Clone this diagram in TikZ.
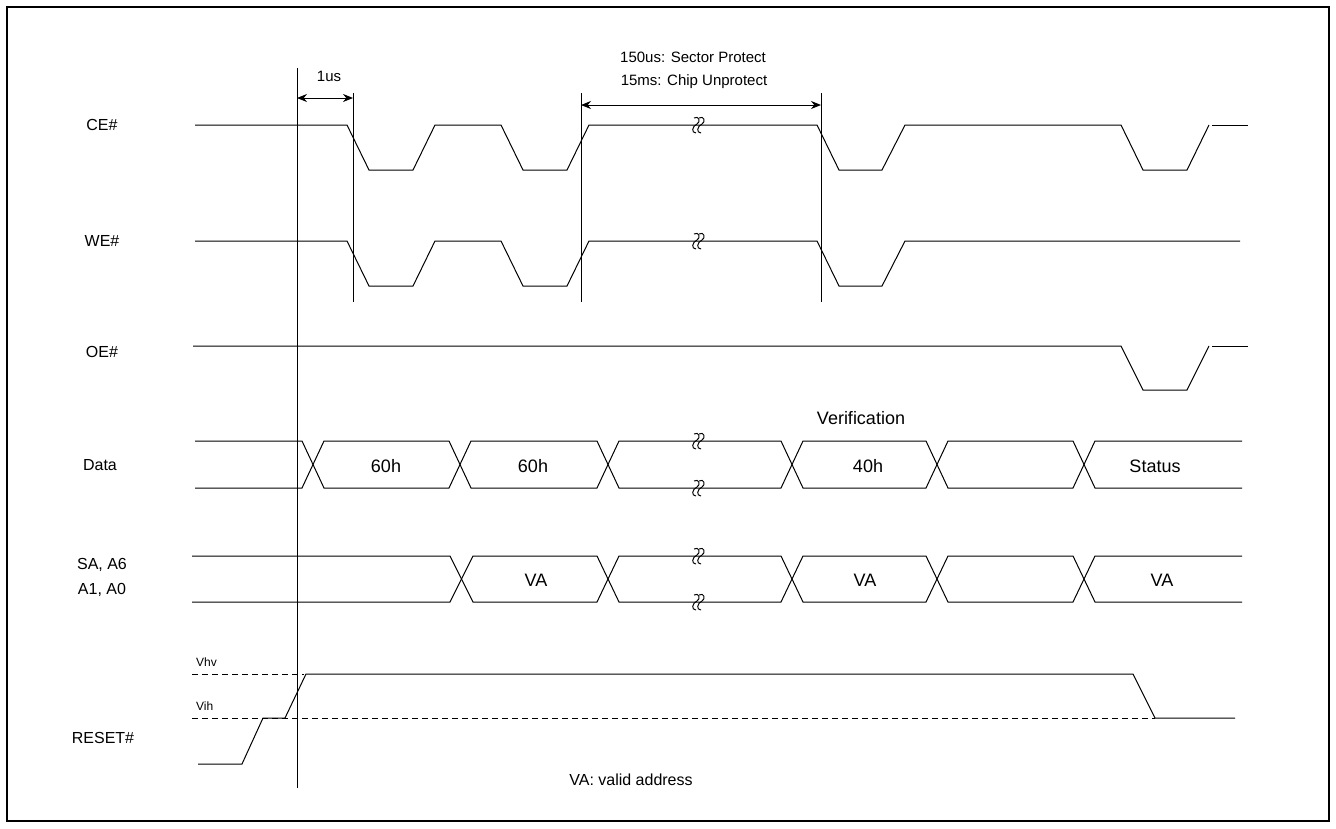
\documentclass[tikz,border=0pt]{standalone}
\usepackage{fontspec}
\setmainfont{Liberation Sans}
\usetikzlibrary{arrows.meta}
\begin{document}
\begin{tikzpicture}[x=1pt,y=-1pt,line join=miter,
  sig/.style={draw,line width=1pt},
  guide/.style={draw,line width=1pt},
  dsh/.style={draw,line width=1pt,dash pattern=on 6pt off 4pt},
  lbl/.style={font=\fontsize{16}{19}\selectfont,inner sep=0pt},
  blbl/.style={font=\fontsize{18}{21}\selectfont,inner sep=0pt},
  small/.style={font=\fontsize{15}{17}\selectfont,inner sep=0pt},
  tiny/.style={font=\fontsize{12}{14}\selectfont,inner sep=0pt,anchor=west},
  dimarrow/.style={draw,line width=1pt,{Stealth[length=10pt,width=8pt]}-{Stealth[length=10pt,width=8pt]}},
  brk/.pic={
    \draw[line width=1pt] (-3,-7) .. controls (2,-10) and (4,-3) .. (0,-1) .. controls (-5,1) and (-6,8) .. (-1,8);
    \draw[line width=1pt] (2,-7) .. controls (7,-10) and (9,-3) .. (5,-1) .. controls (0,1) and (-1,8) .. (4,8);
  }]
\useasboundingbox (0,0) rectangle (1336,828);
\draw[line width=1.2pt] (7,7) rectangle (1329,821);

% signal names
\node[lbl] (nce) at (102,125) {CE\#};
\node[lbl] (nwe) at (102,241) {WE\#};
\node[lbl] (noe) at (102,352) {OE\#};
\node[lbl] (ndata) at (100,465) {Data};
\node[lbl] (nsa) at (102,565) {SA, A6};
\node[lbl] (na1) at (102,590) {A1, A0};
\node[lbl] (nrst) at (103,738) {RESET\#};

% guides
\coordinate (g0t) at (297,68); \coordinate (g0b) at (297,788);
\coordinate (g1t) at (353,93); \coordinate (g1b) at (353,302);
\coordinate (g2t) at (581,93); \coordinate (g2b) at (581,302);
\coordinate (g3t) at (821,93); \coordinate (g3b) at (821,302);
\path[guide] (g0t) -- (g0b);
\path[guide] (g1t) -- (g1b);
\path[guide] (g2t) -- (g2b);
\path[guide] (g3t) -- (g3b);

% dimension arrows
\coordinate (a1l) at (297,98); \coordinate (a1r) at (353,98);
\path[dimarrow] (a1l) -- (a1r);
\node[small] (t1us) at (329,76) {1us};
\coordinate (a2l) at (581,105); \coordinate (a2r) at (821,105);
\path[dimarrow] (a2l) -- (a2r);
\node[small] (tsp) at (693,57) {150us: Sector Protect};
\node[small] (tcu) at (694,82) {15ms: Chip Unprotect};

% CE#
\path[sig] (195,125) -- (347,125) -- (369,170) -- (413,170) -- (435,125) -- (501,125) -- (523,170) -- (567,170) -- (589,125) -- (817,125) -- (839,170) -- (882,170) -- (905,125) -- (1121,125) -- (1143,170) -- (1187,170) -- (1209,125);
\path[sig] (1212,125) -- (1248,125);
\pic at (697,125) {brk};

% WE#
\path[sig] (195,241) -- (347,241) -- (369,286) -- (413,286) -- (435,241) -- (501,241) -- (523,286) -- (567,286) -- (589,241) -- (817,241) -- (839,286) -- (882,286) -- (905,241) -- (1240,241);
\pic at (697,241) {brk};

% OE#
\path[sig] (193,346) -- (1121,346) -- (1143,390) -- (1187,390) -- (1209,346);
\path[sig] (1212,346) -- (1248,346);

% Data bus
\path[sig] (195,441) -- (302,441) -- (324,488) -- (449,488) -- (471,441) -- (597,441) -- (619,488) -- (781,488) -- (803,441) -- (926,441) -- (948,488) -- (1073,488) -- (1095,441) -- (1242,441);
\path[sig] (195,488) -- (302,488) -- (324,441) -- (449,441) -- (471,488) -- (597,488) -- (619,441) -- (781,441) -- (803,488) -- (926,488) -- (948,441) -- (1073,441) -- (1095,488) -- (1242,488);
\pic at (697,441) {brk};
\pic at (697,488) {brk};
\node[blbl] (d1) at (386,466) {60h};
\node[blbl] (d2) at (533,466) {60h};
\node[blbl] (d3) at (868,466) {40h};
\node[blbl] (d4) at (1155,466) {Status};
\node[blbl] (tver) at (861,418) {Verification};

% Address bus
\path[sig] (192,556) -- (450,556) -- (473,602) -- (597,602) -- (619,556) -- (781,556) -- (803,602) -- (926,602) -- (948,556) -- (1073,556) -- (1095,602) -- (1242,602);
\path[sig] (192,602) -- (450,602) -- (473,556) -- (597,556) -- (619,602) -- (781,602) -- (803,556) -- (926,556) -- (948,602) -- (1073,602) -- (1095,556) -- (1242,556);
\pic at (697,556) {brk};
\pic at (697,602) {brk};
\node[blbl] (v1) at (536,580) {VA};
\node[blbl] (v2) at (865,580) {VA};
\node[blbl] (v3) at (1162,580) {VA};

% RESET#
\path[dsh] (192,674) -- (304,674);
\path[dsh] (192,718) -- (1155,718);
\node[tiny] (tvhv) at (196,662) {Vhv};
\node[tiny] (tvih) at (196,706) {Vih};
\path[sig] (198,764) -- (242,764) -- (263,718) -- (285,718) -- (306,674) -- (1133,674) -- (1155,718) -- (1235,718);

\node[lbl] (tva) at (631,780) {VA: valid address};
\end{tikzpicture}
\end{document}
